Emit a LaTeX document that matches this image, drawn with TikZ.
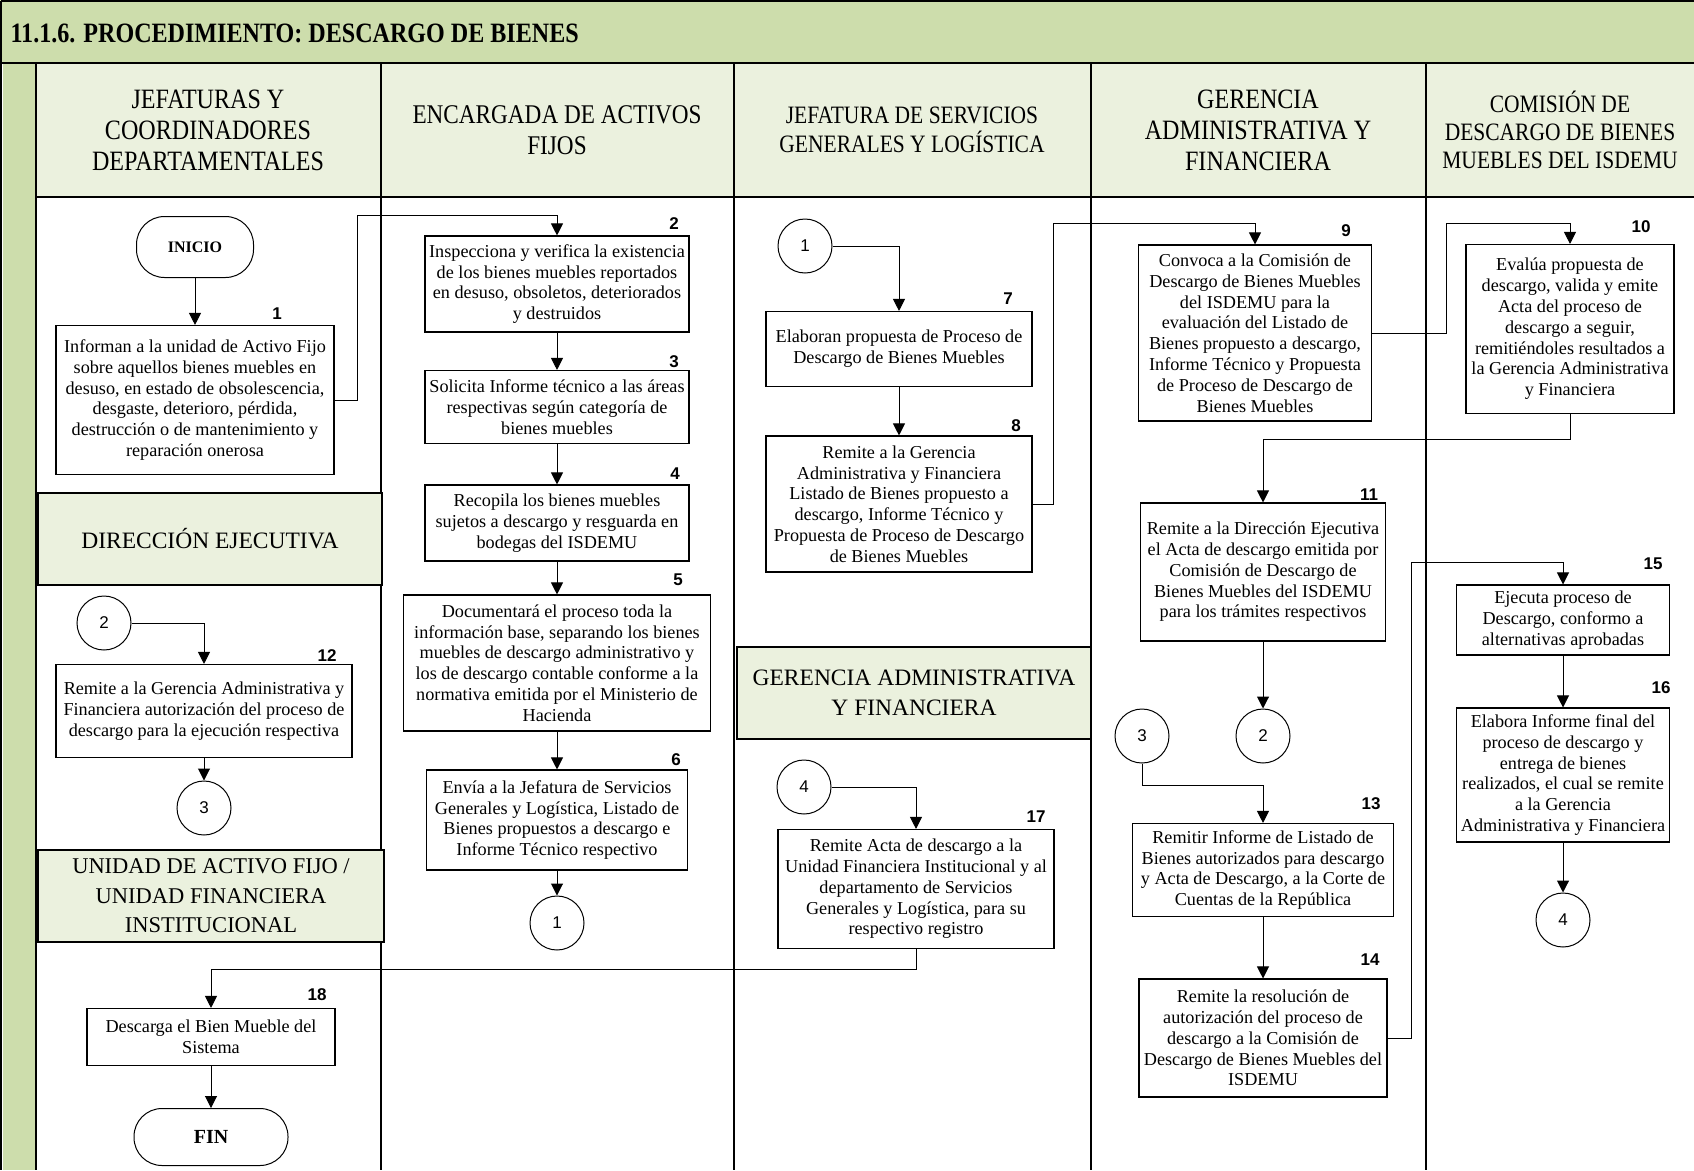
\documentclass[tikz,border=0pt]{standalone}
\usepackage{fontspec}
\setmainfont{Liberation Serif}
\newfontfamily\cabecera[FakeStretch=0.86]{Liberation Serif}
\newfontfamily\numfont{Liberation Sans}
\usetikzlibrary{arrows.meta}

\definecolor{verdeTitulo}{RGB}{205,221,172}
\definecolor{verdeClaro}{RGB}{235,241,222}

\tikzset{
    paso/.style={draw, line width=1.1pt, fill=white, align=center, inner sep=1pt,
        font=\fontsize{18.2}{20.8}\selectfont},
    numpaso/.style={font=\numfont\bfseries\fontsize{17}{17}\selectfont},
    conector/.style={draw, line width=1pt, circle, minimum size=54, inner sep=0pt,
        font=\numfont\fontsize{17}{17}\selectfont},
    terminal/.style={draw, line width=1pt, rounded corners=28, align=center,
        font=\bfseries\fontsize{16}{16}\selectfont},
    carril/.style={draw, line width=1.4pt, fill=verdeClaro, align=center,
        font=\fontsize{23.5}{30}\selectfont},
    titulocol/.style={align=center, font=\cabecera\fontsize{28}{31}\selectfont},
    flecha/.style={line width=1pt, -{Triangle[width=12pt,length=12pt]}},
    linea/.style={line width=1pt},
    borde/.style={line width=1.5pt}
}

\begin{document}
\begin{tikzpicture}[x=1pt, y=-1pt]
    \useasboundingbox (0,0) rectangle (1694,1170);

    % title bar and lanes
    \fill[verdeTitulo] (0,0) rectangle (1694,63);
    \fill[verdeTitulo] (3,63) rectangle (36,1170);
    \fill[verdeClaro] (36,63) rectangle (1694,197);
    \draw[borde] (1,1) -- (1700,1);
    \draw[borde] (1,1) -- (1,1170);
    \draw[borde] (1,63) -- (1700,63);
    \draw[borde] (36,63) -- (36,1170);
    \draw[borde] (36,197) -- (1700,197);
    \foreach \xc in {381, 734, 1091, 1426}
        \draw[borde] (\xc,63) -- (\xc,1170);

    \node[anchor=west, font=\cabecera\bfseries\fontsize{28}{28}\selectfont] (titulo) at (7,33)
        {11.1.6. PROCEDIMIENTO: DESCARGO DE BIENES};

    % column headers
    \node[titulocol] (h1) at (208,130) {JEFATURAS Y\\COORDINADORES\\DEPARTAMENTALES};
    \node[titulocol, font=\cabecera\fontsize{27}{31}\selectfont] (h2) at (557,130)
        {ENCARGADA DE ACTIVOS\\FIJOS};
    \node[titulocol, font=\cabecera\fontsize{25}{29}\selectfont] (h3) at (912,130)
        {JEFATURA DE SERVICIOS\\GENERALES Y LOGÍSTICA};
    \node[titulocol] (h4) at (1258,130) {GERENCIA\\ADMINISTRATIVA Y\\FINANCIERA};
    \node[titulocol, font=\cabecera\fontsize{25}{28}\selectfont] (h5) at (1560,130)
        {COMISIÓN DE\\DESCARGO DE BIENES\\MUEBLES DEL ISDEMU};

    % lanes inside the columns
    \node[carril, minimum width=344, minimum height=92] (dir) at (210,539) {DIRECCIÓN EJECUTIVA};
    \node[carril, minimum width=346, minimum height=92, font=\fontsize{22.5}{29.5}\selectfont] (uaf) at (211,896)
        {UNIDAD DE ACTIVO FIJO /\\UNIDAD FINANCIERA\\INSTITUCIONAL};
    \node[carril, minimum width=354, minimum height=92] (gaf) at (914,693)
        {GERENCIA ADMINISTRATIVA\\Y FINANCIERA};

    % jefaturas y coordinadores
    \node[terminal, minimum width=117, minimum height=61] (ini) at (195,247) {INICIO};
    \node[paso, minimum width=278, minimum height=149] (b1) at (195,400)
        {Informan a la unidad de Activo Fijo\\sobre aquellos bienes muebles en\\desuso, en estado de obsolescencia,\\desgaste, deterioro, pérdida,\\destrucción o de mantenimiento y\\reparación onerosa};
    \node[numpaso] (l1) at (277,314) {1};

    % direccion ejecutiva
    \node[conector] (k2a) at (104,623) {2};
    \node[paso, minimum width=296, minimum height=93] (b12) at (204,711)
        {Remite a la Gerencia Administrativa y\\Financiera autorización del proceso de\\descargo para la ejecución respectiva};
    \node[numpaso] (l12) at (327,656) {12};
    \node[conector] (k3a) at (204,808) {3};

    % unidad de activo fijo
    \node[paso, minimum width=248, minimum height=57] (b18) at (211,1037)
        {Descarga el Bien Mueble del\\Sistema};
    \node[numpaso] (l18) at (317,995) {18};
    \node[terminal, minimum width=154, minimum height=57, font=\bfseries\fontsize{20}{20}\selectfont] (fin) at (211,1137) {FIN};

    % encargada de activos fijos
    \node[paso, minimum width=264, minimum height=96] (b2) at (557,284)
        {Inspecciona y verifica la existencia\\de los bienes muebles reportados\\en desuso, obsoletos, deteriorados\\y destruidos};
    \node[numpaso] (l2) at (674,224) {2};
    \node[paso, minimum width=264, minimum height=73] (b3) at (557,407)
        {Solicita Informe técnico a las áreas\\respectivas según categoría de\\bienes muebles};
    \node[numpaso] (l3) at (674,362) {3};
    \node[paso, minimum width=264, minimum height=76] (b4) at (557,523)
        {Recopila los bienes muebles\\sujetos a descargo y resguarda en\\bodegas del ISDEMU};
    \node[numpaso] (l4) at (675,474) {4};
    \node[paso, minimum width=307, minimum height=136] (b5) at (557,663)
        {Documentará el proceso toda la\\información base, separando los bienes\\muebles de descargo administrativo y\\los de descargo contable conforme a la\\normativa emitida por el Ministerio de\\Hacienda};
    \node[numpaso] (l5) at (678,580) {5};
    \node[paso, minimum width=261, minimum height=100] (b6) at (557,820)
        {Envía a la Jefatura de Servicios\\Generales y Logística, Listado de\\Bienes propuestos a descargo e\\Informe Técnico respectivo};
    \node[numpaso] (l6) at (676,760) {6};
    \node[conector] (k1a) at (557,923) {1};

    % jefatura de servicios generales
    \node[conector] (k1b) at (805,246) {1};
    \node[paso, minimum width=266, minimum height=75] (b7) at (899,349)
        {Elaboran propuesta de Proceso de\\Descargo de Bienes Muebles};
    \node[numpaso] (l7) at (1008,299) {7};
    \node[paso, minimum width=266, minimum height=136] (b8) at (899,504)
        {Remite a la Gerencia\\Administrativa y Financiera\\Listado de Bienes propuesto a\\descargo, Informe Técnico y\\Propuesta de Proceso de Descargo\\de Bienes Muebles};
    \node[numpaso] (l8) at (1016,426) {8};

    % gerencia administrativa (lane inside column 3)
    \node[conector] (k4b) at (804,787) {4};
    \node[paso, minimum width=276, minimum height=119] (b17) at (916,889)
        {Remite Acta de descargo a la\\Unidad Financiera Institucional y al\\departamento de Servicios\\Generales y Logística, para su\\respectivo registro};
    \node[numpaso] (l17) at (1036,817) {17};

    % gerencia administrativa y financiera
    \node[paso, minimum width=233, minimum height=176] (b9) at (1255,333)
        {Convoca a la Comisión de\\Descargo de Bienes Muebles\\del ISDEMU para la\\evaluación del Listado de\\Bienes propuesto a descargo,\\Informe Técnico y Propuesta\\de Proceso de Descargo de\\Bienes Muebles};
    \node[numpaso] (l9) at (1346,231) {9};
    \node[paso, minimum width=245, minimum height=138] (b11) at (1263,572)
        {Remite a la Dirección Ejecutiva\\el Acta de descargo emitida por\\Comisión de Descargo de\\Bienes Muebles del ISDEMU\\para los trámites respectivos};
    \node[numpaso] (l11) at (1369,495) {11};
    \node[conector] (k3b) at (1142,736) {3};
    \node[conector] (k2b) at (1263,736) {2};
    \node[paso, minimum width=261, minimum height=93] (b13) at (1263,870)
        {Remitir Informe de Listado de\\Bienes autorizados para descargo\\y Acta de Descargo, a la Corte de\\Cuentas de la República};
    \node[numpaso] (l13) at (1371,804) {13};
    \node[paso, minimum width=248, minimum height=118] (b14) at (1263,1038)
        {Remite la resolución de\\autorización del proceso de\\descargo a la Comisión de\\Descargo de Bienes Muebles del\\ISDEMU};
    \node[numpaso] (l14) at (1370,960) {14};

    % comision de descargo
    \node[paso, minimum width=208, minimum height=169] (b10) at (1570,329)
        {Evalúa propuesta de\\descargo, valida y emite\\Acta del proceso de\\descargo a seguir,\\remitiéndoles resultados a\\la Gerencia Administrativa\\y Financiera};
    \node[numpaso] (l10) at (1641,227) {10};
    \node[paso, minimum width=213, minimum height=70] (b15) at (1563,620)
        {Ejecuta proceso de\\Descargo, conformo a\\alternativas aprobadas};
    \node[numpaso] (l15) at (1653,564) {15};
    \node[paso, minimum width=213, minimum height=134] (b16) at (1563,775)
        {Elabora Informe final del\\proceso de descargo y\\entrega de bienes\\realizados, el cual se remite\\a la Gerencia\\Administrativa y Financiera};
    \node[numpaso] (l16) at (1661,688) {16};
    \node[conector] (k4a) at (1563,920) {4};

    % bends of the long connectors
    \coordinate (c1) at (357,215);
    \coordinate (c2) at (1053,223);
    \coordinate (c3) at (1446,223);
    \coordinate (c4) at (1263,439);
    \coordinate (c5) at (1263,785);
    \coordinate (c6) at (1411,562);
    \coordinate (c7) at (916,969);

    % connectors
    \draw[flecha] (ini) -- (b1);
    \draw[flecha] (b1.east) -| (c1) -| (b2.north);
    \draw[flecha] (b2) -- (b3);
    \draw[flecha] (b3) -- (b4);
    \draw[flecha] (b4) -- (b5);
    \draw[flecha] (b5) -- (b6);
    \draw[flecha] (b6) -- (k1a);
    \draw[flecha] (k1b) -| (b7.north);
    \draw[flecha] (b7) -- (b8);
    \draw[flecha] (b8.east) -| (c2) -| (b9.north);
    \draw[flecha] (b9.east) -| (c3) -| (b10.north);
    \draw[flecha] (b10.south) |- (c4) -- (b11.north);
    \draw[flecha] (b11) -- (k2b);
    \draw[flecha] (k3b.south) |- (c5) -- (b13.north);
    \draw[flecha] (b13) -- (b14);
    \draw[flecha] (b14.east) -| (c6) -| (b15.north);
    \draw[flecha] (b15) -- (b16);
    \draw[flecha] (b16) -- (k4a);
    \draw[flecha] (k4b) -| (b17.north);
    \draw[flecha] (b17.south) -- (c7) -| (b18.north);
    \draw[flecha] (b18) -- (fin);
    \draw[flecha] (k2a) -| (b12.north);
    \draw[flecha] (b12) -- (k3a);
\end{tikzpicture}
\end{document}
